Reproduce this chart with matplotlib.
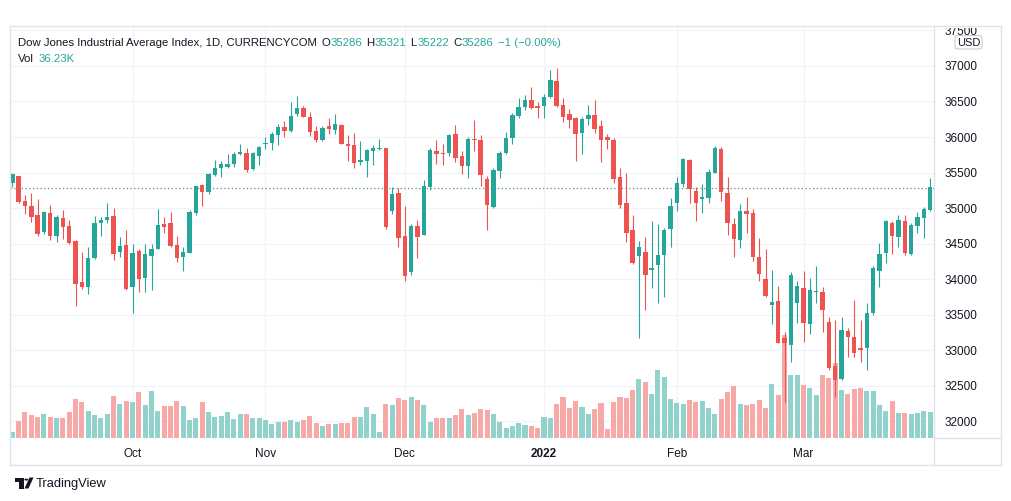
import matplotlib
matplotlib.use('Agg')
import matplotlib.pyplot as plt
import numpy as np
import pandas as pd
from matplotlib.patches import Rectangle, FancyBboxPatch, Polygon, Circle
from matplotlib.lines import Line2D

# ---------------- data ----------------
opens = [35357, 35451, 35099, 35029, 34902, 34658, 34930, 34611, 34860, 34752,
         34541, 33959, 33893, 34292, 34785, 34832, 34888, 34381, 34484, 33893,
         34400, 34020, 34330, 34428, 34775, 34794, 34484, 34315, 34372, 34935,
         35320, 35231, 35461, 35569, 35583, 35620, 35756, 35775, 35550, 35737,
         35902, 35911, 36033, 36136, 36085, 36324, 36404, 36277, 36085, 35963,
         36160, 36099, 36169, 35907, 35888, 35653, 35667, 35808, 35827, 35846,
         34959, 35212, 34607, 34100, 34752, 34621, 35301, 35803, 35775, 35775,
         36043, 35733, 35597, 35972, 35958, 35409, 35020, 35522, 35775, 35991,
         36296, 36418, 36521, 36442, 36442, 36568, 36789, 36451, 36320, 36273,
         36062, 36249, 36310, 36160, 36005, 35958, 35442, 35076, 34691, 34325,
         34377, 34123, 34194, 34334, 34700, 35067, 35334, 35677, 35240, 35128,
         35137, 35498, 35831, 35207, 34776, 34550, 34959, 34935, 34306, 33997,
         33640, 33687, 33166, 33072, 33668, 33870, 33363, 33818, 33823, 33391,
         32776, 32589, 33269, 33189, 33025, 33025, 33518, 34119, 34363, 34794,
         34597, 34818, 34353, 34752, 34865, 34973]
highs = [35498, 35455, 35179, 35207, 35127, 34963, 35038, 34897, 34968, 34832,
         34545, 34376, 34452, 34888, 34874, 35071, 35001, 34592, 34686, 34489,
         34419, 34494, 34489, 34982, 34879, 34949, 34606, 34456, 34972, 35312,
         35334, 35489, 35672, 35662, 35761, 35789, 35902, 35845, 35789, 35874,
         36005, 36075, 36183, 36230, 36493, 36578, 36437, 36352, 36160, 36160,
         36263, 36320, 36179, 36029, 36057, 35944, 35832, 35893, 35972, 35852,
         35301, 35287, 35029, 34776, 34832, 35390, 35846, 35958, 35907, 36038,
         36169, 35803, 36005, 36240, 36029, 35447, 35559, 35803, 36071, 36334,
         36554, 36592, 36704, 36489, 36611, 36944, 36977, 36545, 36395, 36282,
         36282, 36451, 36521, 36240, 36038, 35991, 35559, 35498, 34902, 34536,
         34588, 34823, 34771, 34724, 35137, 35437, 35700, 35686, 35301, 35334,
         35545, 35878, 35864, 35442, 34855, 35057, 35151, 34982, 34574, 34419,
         34128, 33903, 33260, 34104, 33973, 34114, 34011, 34184, 33893, 33471,
         33424, 33462, 33307, 33706, 33424, 33659, 34184, 34503, 34832, 34823,
         34902, 34902, 34785, 34949, 35020, 35419]
lows = [35292, 35066, 34912, 34808, 34611, 34630, 34545, 34527, 34569, 34494,
        33626, 33860, 33785, 34280, 34611, 34794, 34269, 34315, 33842, 33527,
        33823, 33823, 33846, 34420, 34653, 34452, 34245, 34118, 34363, 34907,
        35029, 35198, 35451, 35442, 35559, 35573, 35747, 35507, 35536, 35611,
        35827, 35817, 35888, 35996, 36075, 36296, 36277, 36014, 35935, 35949,
        36043, 36048, 35897, 35663, 35569, 35606, 35437, 35606, 35818, 34705,
        34921, 34457, 33978, 34058, 34302, 34615, 35254, 35620, 35606, 35738,
        35653, 35480, 35428, 35803, 35315, 34696, 34996, 35428, 35766, 35907,
        36263, 36385, 36395, 36263, 36273, 36554, 36428, 36216, 36123, 35663,
        35766, 36169, 36057, 35653, 35832, 35348, 35006, 34527, 34212, 33166,
        33565, 33879, 33668, 33743, 34447, 34963, 35292, 35076, 34813, 34935,
        35067, 35489, 35104, 34621, 34316, 34442, 34644, 34259, 33978, 33753,
        33363, 33095, 32272, 32837, 33386, 33119, 33222, 33659, 33260, 32720,
        32345, 32579, 32908, 32908, 32837, 32720, 33494, 33893, 34231, 34353,
        34447, 34339, 34339, 34644, 34574, 34963]
closes = [35479, 35090, 35034, 34874, 34635, 34944, 34611, 34879, 34738, 34503,
          33935, 33893, 34297, 34789, 34832, 34879, 34353, 34466, 33856, 34367,
          34006, 34353, 34423, 34761, 34738, 34466, 34301, 34381, 34949, 35306,
          35231, 35479, 35559, 35620, 35620, 35761, 35789, 35531, 35775, 35859,
          35921, 36043, 36136, 36085, 36296, 36404, 36287, 36075, 35963, 36132,
          36113, 36179, 35907, 35879, 35639, 35677, 35817, 35846, 35846, 34729,
          35193, 34583, 34044, 34752, 34597, 35311, 35817, 35766, 35761, 36029,
          35710, 35597, 35972, 35954, 35470, 35043, 35536, 35775, 35982, 36310,
          36418, 36521, 36413, 36404, 36564, 36803, 36442, 36287, 36235, 36047,
          36254, 36310, 36113, 35963, 35954, 35414, 35043, 34644, 34222, 34447,
          34053, 34151, 34334, 34691, 35029, 35348, 35686, 35264, 35067, 35151,
          35512, 35841, 35221, 34794, 34564, 34959, 34921, 34316, 34072, 33762,
          33673, 33105, 33105, 34058, 33907, 33377, 33846, 33832, 33565, 32744,
          32579, 33283, 33189, 32964, 33002, 33518, 34161, 34353, 34823, 34611,
          34832, 34363, 34761, 34869, 34982, 35292]
volumes_k = [8.0, 23.5, 36.2, 32.9, 29.2, 34.3, 30.1, 28.2, 28.7, 36.2,
             55.5, 51.3, 38.6, 32.0, 28.7, 33.4, 58.8, 48.5, 52.7, 51.3,
             65.4, 46.1, 66.8, 37.6, 44.7, 44.7, 52.7, 44.7, 25.9, 28.7,
             51.3, 37.2, 29.2, 30.6, 37.2, 27.3, 34.3, 33.4, 28.7, 28.7,
             25.9, 19.3, 23.0, 22.1, 25.9, 22.6, 25.9, 31.5, 20.7, 17.4,
             20.2, 19.3, 20.7, 20.7, 30.1, 29.2, 44.2, 33.4, 8.0, 48.5,
             46.1, 56.9, 54.1, 58.3, 54.1, 46.1, 23.0, 28.7, 27.8, 28.7,
             32.9, 41.4, 32.5, 35.8, 40.9, 39.0, 34.3, 22.1, 14.6, 16.5,
             21.6, 18.8, 16.5, 14.6, 29.6, 28.7, 48.5, 58.3, 42.8, 52.7,
             44.2, 34.3, 41.4, 49.9, 13.2, 51.3, 58.3, 56.9, 68.2, 83.7,
             79.5, 62.6, 96.4, 86.6, 55.5, 49.9, 48.5, 54.1, 51.3, 52.7,
             42.8, 34.3, 55.5, 65.4, 73.9, 48.5, 47.0, 48.5, 54.1, 42.8,
             76.7, 61.2, 145.8, 89.4, 89.4, 75.3, 71.0, 61.2, 89.4, 84.7,
             105.8, 68.2, 62.6, 69.6, 71.0, 66.8, 66.8, 47.0, 38.6, 52.7,
             35.8, 35.8, 34.3, 35.8, 38.6, 36.2]

dates = [d for d in pd.bdate_range('2021-09-06', '2022-03-29')
         if d != pd.Timestamp('2021-12-24')]
month_keys = ['2021-10', '2021-11', '2021-12', '2022-01', '2022-02', '2022-03']
month_labels = ['Oct', 'Nov', 'Dec', '2022', 'Feb', 'Mar']
price_ticks = list(range(32000, 37501, 500))
last_price = 35286
header_title = "Dow Jones Industrial Average Index, 1D, CURRENCYCOM"
header_ohlc = [("O", "35286"), ("H", "35321"), ("L", "35222"), ("C", "35286")]
header_change = "\u22121 (\u22120.00%)"
vol_title = "Vol"
vol_value = "36.23K"
currency = "USD"
brand = "TradingView"

# ---------------- styling ----------------
UP = '#26a69a'
DOWN = '#ef5350'
UP_VOL = '#92d2cc'
DOWN_VOL = '#f7a9a7'
GRID = '#f0f3fa'
BORDER = '#e0e3eb'
TEXT = '#131722'
FONT = ['Liberation Sans', 'DejaVu Sans']
plt.rcParams['font.family'] = FONT
HDR = 8.2

W, H = 1012, 501
fig = plt.figure(figsize=(W / 100, H / 100), dpi=100)
fig.patch.set_facecolor('white')


def fx(px):
    return px / W


def fy(py):
    return 1 - py / H


pane = [fx(10), fy(438), fx(934) - fx(10), fy(26) - fy(438)]
x = np.arange(len(dates))
xlim = (-0.363, 145.61)
plim = (31762, 37563)
vlim = (0, 581.3)

o = np.array(opens, float)
h = np.array(highs, float)
l = np.array(lows, float)
c = np.array(closes, float)
v = np.array(volumes_k, float)
up = c >= o

# background axes: grid + time labels
ax_bg = fig.add_axes(pane, zorder=0)
ax_bg.set_xlim(*xlim)
ax_bg.set_ylim(*plim)
month_idx = [next(i for i, d in enumerate(dates) if d.strftime('%Y-%m') == k)
             for k in month_keys]
ax_bg.set_xticks(month_idx)
ax_bg.set_xticklabels(month_labels)
ax_bg.set_yticks(price_ticks)
ax_bg.tick_params(axis='y', left=False, labelleft=False)
ax_bg.tick_params(axis='x', length=0, pad=7, labelsize=8.5, labelcolor=TEXT)
for lab in ax_bg.get_xticklabels():
    if lab.get_text() == '2022':
        lab.set_fontweight('bold')
ax_bg.grid(True, color=GRID, lw=0.9)
for s in ax_bg.spines.values():
    s.set_visible(False)

# volume axes
ax_v = fig.add_axes(pane, zorder=1)
ax_v.patch.set_visible(False)
ax_v.set_xlim(*xlim)
ax_v.set_ylim(*vlim)
ax_v.bar(x, v, width=0.8, color=np.where(up, UP_VOL, DOWN_VOL), linewidth=0)
ax_v.axis('off')

# price axes: candles
ax_p = fig.add_axes(pane, zorder=2)
ax_p.patch.set_visible(False)
ax_p.set_xlim(*xlim)
ax_p.set_ylim(*plim)
cols = np.where(up, UP, DOWN)
ax_p.vlines(x, l, h, colors=cols, linewidth=0.8)
body = np.maximum(np.abs(c - o), 14)
ax_p.bar(x, body, bottom=np.minimum(o, c), width=0.7, color=cols, linewidth=0)
ax_p.axhline(last_price, color='#5f8f8a', lw=0.9, ls=(0, (1, 2)))
ax_p.set_xticks([])
ax_p.set_yticks(price_ticks)
ax_p.set_yticklabels([str(t) for t in price_ticks])
ax_p.yaxis.tick_right()
ax_p.tick_params(axis='y', length=0, pad=7.5, labelsize=8.5, labelcolor=TEXT)
for s in ax_p.spines.values():
    s.set_visible(False)

# cover above the pane top (clips the 37500 label) and borders
fig.add_artist(Rectangle((fx(934), fy(28)), fx(1012) - fx(934), 1 - fy(28),
                         transform=fig.transFigure, facecolor='white',
                         edgecolor='none', zorder=5))


def fline(x0, y0, x1, y1):
    fig.add_artist(Line2D([fx(x0), fx(x1)], [fy(y0), fy(y1)],
                          transform=fig.transFigure, color=BORDER, lw=1, zorder=6))


fline(10, 26, 1001, 26)
fline(10, 465, 1001, 465)
fline(10, 26, 10, 465)
fline(1001, 26, 1001, 465)
fline(934, 26, 934, 465)
fline(934, 438, 1001, 438)

# USD badge
fig.add_artist(FancyBboxPatch((fx(955), fy(49)), fx(27), fy(35.5) - fy(49),
                              boxstyle='round,pad=0,rounding_size=0.004',
                              transform=fig.transFigure, facecolor='white',
                              edgecolor='#c9ccd4', lw=0.8, zorder=7))
fig.text(fx(968.5), fy(42.5), currency, ha='center', va='center', fontsize=8,
         color=TEXT, zorder=8)

# header legend
base_y = fy(46)
t0 = fig.text(fx(18), base_y, header_title, fontsize=HDR, color=TEXT, va='baseline')


def chain(prev, s, color, gap):
    return ax_p.annotate(s, xy=(1, base_y), xycoords=(prev, 'figure fraction'),
                         xytext=(gap, 0), textcoords='offset points',
                         fontsize=HDR, color=color, va='baseline', ha='left',
                         annotation_clip=False)


prev = t0
for k, val in header_ohlc:
    prev = chain(prev, k, TEXT, 3.0)
    prev = chain(prev, val, UP, 0.3)
prev = chain(prev, header_change, UP, 3.0)

vy = fy(62)
tv = fig.text(fx(18), vy, vol_title, fontsize=HDR, color=TEXT, va='baseline')
ax_p.annotate(vol_value, xy=(1, vy), xycoords=(tv, 'figure fraction'),
              xytext=(3.5, 0), textcoords='offset points', fontsize=HDR,
              color=UP, va='baseline', ha='left', annotation_clip=False)


# TradingView logo + text
def fpoly(pts, **kw):
    fig.add_artist(Polygon([(fx(a), fy(b)) for a, b in pts], closed=True,
                           transform=fig.transFigure, **kw))


fpoly([(15, 477.5), (23.5, 477.5), (23.5, 488.5), (19.5, 488.5), (19.5, 481.5), (15, 481.5)],
      facecolor=TEXT, edgecolor='none', zorder=6)
fig.add_artist(Circle((fx(26.3), fy(479.6)), 2.0 / W, transform=fig.transFigure,
                      facecolor=TEXT, edgecolor='none', zorder=6))
fpoly([(29.5, 477.5), (33.5, 477.5), (28.5, 488.5), (24.5, 488.5)],
      facecolor=TEXT, edgecolor='none', zorder=6)
fig.text(fx(35.5), fy(487.5), brand, fontsize=9.3, color=TEXT, va='baseline')

fig.savefig('out.png', dpi=100, facecolor='white')
